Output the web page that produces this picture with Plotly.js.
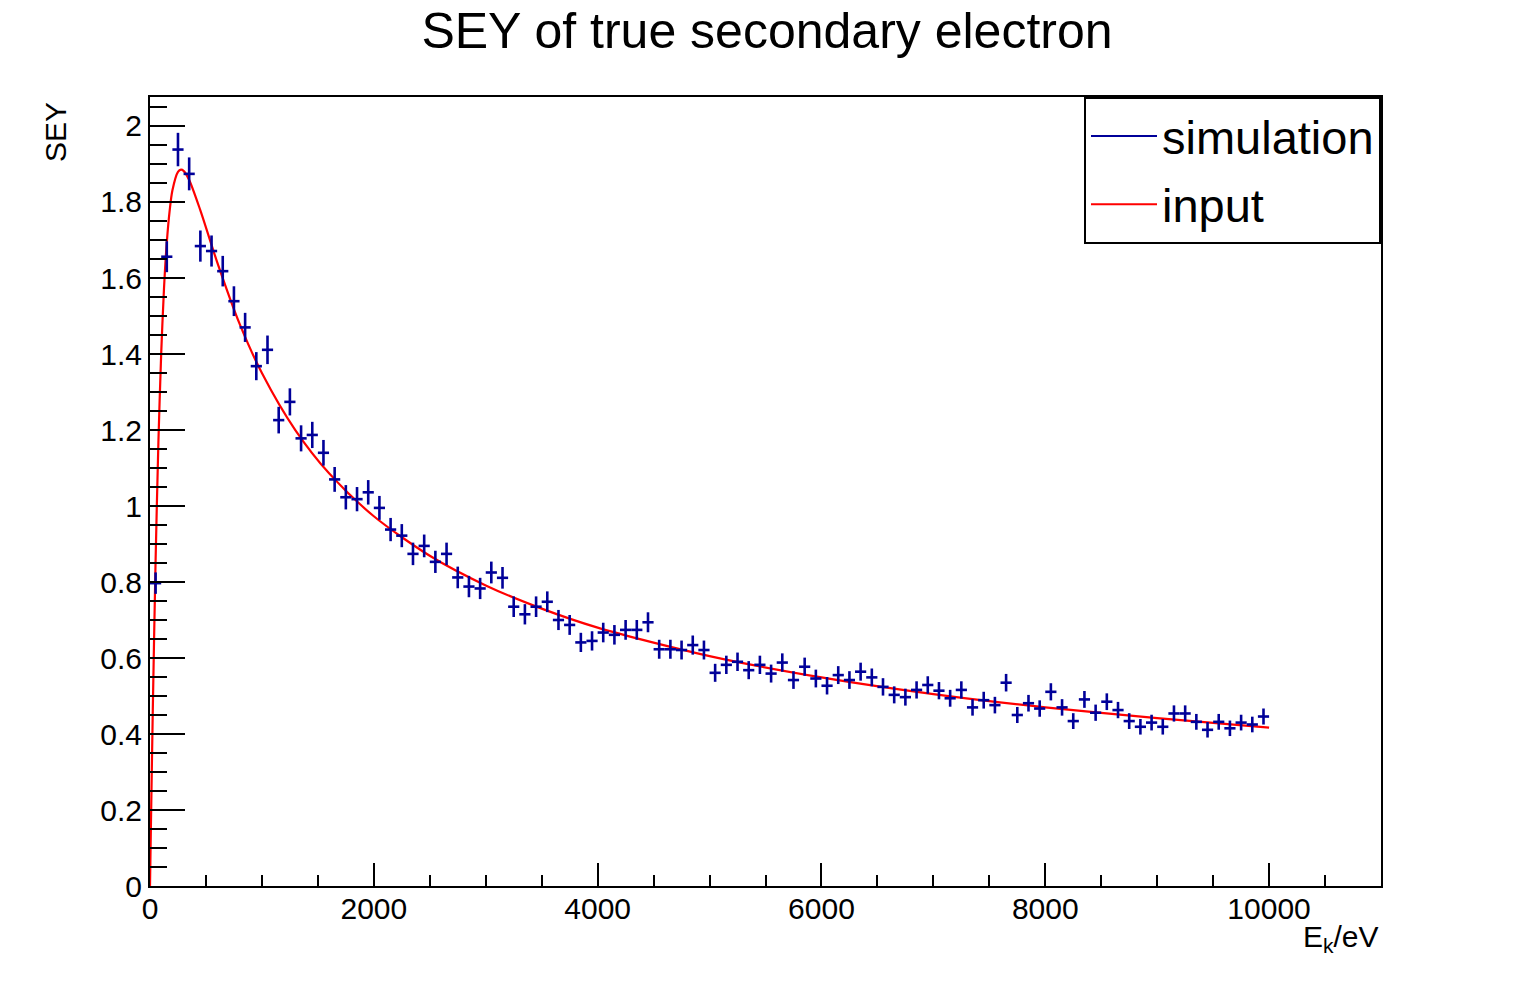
<!DOCTYPE html>
<html>
<head>
<meta charset="utf-8">
<script src="https://cdn.plot.ly/plotly-3.0.1.min.js"></script>
<style>html,body{margin:0;padding:0;background:#fff;}#chart{width:1534px;height:983px;}</style>
</head>
<body>
<div id="chart"></div>
<script>
// Bin centres (eV) of the simulated histogram
var energy = [50,150,250,350,450,550,650,750,850,950,
  1050,1150,1250,1350,1450,1550,1650,1750,1850,1950,
  2050,2150,2250,2350,2450,2550,2650,2750,2850,2950,
  3050,3150,3250,3350,3450,3550,3650,3750,3850,3950,
  4050,4150,4250,4350,4450,4550,4650,4750,4850,4950,
  5050,5150,5250,5350,5450,5550,5650,5750,5850,5950,
  6050,6150,6250,6350,6450,6550,6650,6750,6850,6950,
  7050,7150,7250,7350,7450,7550,7650,7750,7850,7950,
  8050,8150,8250,8350,8450,8550,8650,8750,8850,8950,
  9050,9150,9250,9350,9450,9550,9650,9750,9850,9950];
// Simulated SEY per bin
var simSEY = [0.797,1.656,1.938,1.874,1.684,1.671,1.618,1.539,1.470,1.368,
  1.411,1.226,1.274,1.178,1.187,1.140,1.070,1.023,1.018,1.036,
  0.995,0.938,0.922,0.874,0.895,0.853,0.874,0.812,0.788,0.783,
  0.825,0.811,0.735,0.715,0.735,0.748,0.700,0.687,0.641,0.645,
  0.667,0.661,0.674,0.674,0.694,0.623,0.623,0.621,0.634,0.621,
  0.561,0.582,0.590,0.568,0.582,0.559,0.588,0.542,0.577,0.546,
  0.527,0.555,0.542,0.564,0.549,0.524,0.503,0.497,0.516,0.529,
  0.514,0.494,0.516,0.470,0.489,0.476,0.535,0.450,0.481,0.467,
  0.511,0.470,0.434,0.491,0.456,0.485,0.463,0.434,0.419,0.430,
  0.419,0.454,0.454,0.432,0.411,0.432,0.415,0.430,0.425,0.446];
// Vertical error per bin
var simErr = [0.0282,0.0407,0.0440,0.0433,0.0410,0.0409,0.0402,0.0392,0.0383,0.0370,
  0.0376,0.0350,0.0357,0.0343,0.0345,0.0338,0.0327,0.0320,0.0319,0.0322,
  0.0315,0.0306,0.0304,0.0296,0.0299,0.0292,0.0296,0.0285,0.0281,0.0280,
  0.0287,0.0285,0.0271,0.0267,0.0271,0.0273,0.0265,0.0262,0.0253,0.0254,
  0.0258,0.0257,0.0260,0.0260,0.0263,0.0250,0.0250,0.0249,0.0252,0.0249,
  0.0237,0.0241,0.0243,0.0238,0.0241,0.0236,0.0242,0.0233,0.0240,0.0234,
  0.0230,0.0236,0.0233,0.0237,0.0234,0.0229,0.0224,0.0223,0.0227,0.0230,
  0.0227,0.0222,0.0227,0.0217,0.0221,0.0218,0.0231,0.0212,0.0219,0.0216,
  0.0226,0.0217,0.0208,0.0222,0.0214,0.0220,0.0215,0.0208,0.0205,0.0207,
  0.0205,0.0213,0.0213,0.0208,0.0203,0.0208,0.0204,0.0207,0.0206,0.0211];
var binHalfWidth = 50;
// Input curve
var inputE = [0,5,10,25,50,75,100,125,150,175,200,250,277,300,350,450,600,800,1000,1300,1600,2000,2500,3000,3500,4000,5000,6000,7000,8000,9000,10000];
var inputSEY = [0,0.097,0.192,0.464,0.857,1.167,1.401,1.572,1.693,1.775,1.830,1.879,1.885,1.882,1.858,1.778,1.642,1.480,1.350,1.199,1.086,0.973,0.869,0.791,0.730,0.680,0.605,0.549,0.505,0.470,0.442,0.417];

var FONT = '"Liberation Sans", Arial, Helvetica, sans-serif';
var BLUE = '#000099', RED = '#ff0000';

var traces = [
  {x: inputE, y: inputSEY, type: 'scatter', mode: 'lines', showlegend: false,
   line: {color: RED, width: 2.2, shape: 'spline', smoothing: 0.8}, hoverinfo: 'skip'},
  {x: energy, y: simSEY, type: 'scatter', mode: 'markers', showlegend: false,
   marker: {color: BLUE, size: 2},
   error_y: {type: 'data', array: simErr, visible: true, width: 0, thickness: 2.6, color: BLUE},
   error_x: {type: 'constant', value: binHalfWidth, visible: true, width: 0, thickness: 2.6, color: BLUE}},
  {x: [null], y: [null], type: 'scatter', mode: 'lines', name: 'simulation', legendgroup: 'a', line: {color: BLUE, width: 2}},
  {x: [null], y: [null], type: 'scatter', mode: 'lines', name: 'input', legendgroup: 'b', line: {color: RED, width: 2}}
];

var layout = {
  width: 1534, height: 983,
  paper_bgcolor: '#fff', plot_bgcolor: '#fff',
  margin: {l: 150, r: 153, t: 97, b: 97},
  font: {family: FONT, color: '#000'},
  title: {text: 'SEY of true secondary electron', font: {size: 50, family: FONT, color: '#000'},
          x: 0.5, xref: 'container', y: 1 - 30/983, yref: 'container', yanchor: 'middle'},
  xaxis: {range: [0, 11000], showgrid: false, zeroline: false, showline: true, mirror: true,
          linecolor: '#000', linewidth: 2, ticks: 'inside', ticklen: 23, tickwidth: 2, tickcolor: '#000',
          dtick: 2000, tick0: 0, tickformat: 'd', ticklabelstandoff: -5,
          tickfont: {size: 30, family: FONT, color: '#000'},
          minor: {ticks: 'inside', ticklen: 11, tickwidth: 2, tickcolor: '#000', dtick: 500, showgrid: false}},
  yaxis: {range: [0, 2.0763], showgrid: false, zeroline: false, showline: true, mirror: true,
          linecolor: '#000', linewidth: 2, ticks: 'inside', ticklen: 35, tickwidth: 2, tickcolor: '#000',
          dtick: 0.2, tick0: 0, tickfont: {size: 30, family: FONT, color: '#000'},
          minor: {ticks: 'inside', ticklen: 17, tickwidth: 2, tickcolor: '#000', dtick: 0.05, showgrid: false}},
  legend: {x: 1, xanchor: 'right', y: 1, yanchor: 'top', bgcolor: '#fff', bordercolor: '#000', borderwidth: 2,
           font: {size: 47, family: FONT, color: '#000'}, itemwidth: 66, traceorder: 'grouped', tracegroupgap: 4},
  annotations: [
    {text: 'E<sub>k</sub>/eV', xref: 'paper', yref: 'paper', x: 1, y: -0.066, xanchor: 'right', yanchor: 'middle',
     showarrow: false, font: {size: 30, family: FONT, color: '#000'}},
    {text: 'SEY', xref: 'paper', yref: 'paper', x: -0.0772, y: 0.996, xanchor: 'center', yanchor: 'top',
     textangle: -90, showarrow: false, font: {size: 30, family: FONT, color: '#000'}}
  ]
};

Plotly.newPlot('chart', traces, layout, {staticPlot: true, displayModeBar: false});
</script>
</body>
</html>
